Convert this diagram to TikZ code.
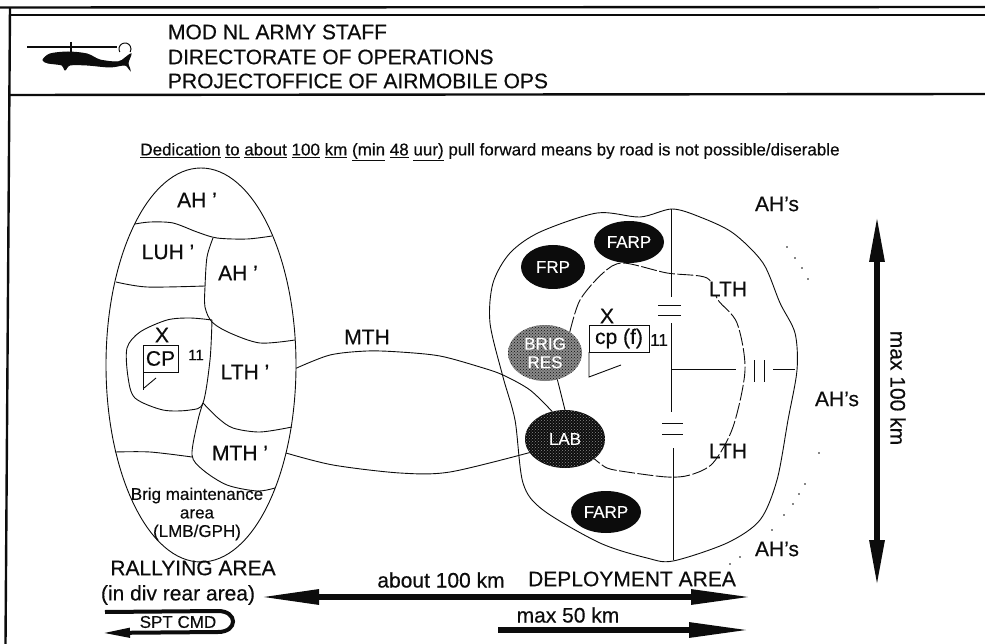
\documentclass[tikz,border=0pt]{standalone}
\usepackage{xcolor}
\usepackage{fontspec}
\usepackage{tikz}
\usetikzlibrary{arrows.meta,patterns,shapes.geometric}
\setmainfont{Liberation Sans}[RawFeature={embolden=0.4}]
\definecolor{ink}{HTML}{0C0C0C}
\definecolor{paper}{HTML}{FFFFFF}
\definecolor{halftone}{HTML}{8A8A8A}
\newcommand{\lbl}{\fontsize{21}{24}\selectfont}
\newcommand{\smalllbl}{\fontsize{17}{18.5}\selectfont}

\begin{document}
\begin{tikzpicture}[x=1pt,y=-1pt,every node/.style={font=\lbl,text=ink,inner sep=0pt,outer sep=0pt,align=center},
   frameline/.style={draw=ink,line width=2.4pt},
   thin/.style={draw=ink,line width=0.9pt},
   region/.style={draw=ink,line width=0.9pt,smooth},
   loopline/.style={draw=ink,line width=0.9pt,smooth,dash pattern=on 16pt off 2.5pt},
   unit/.style={ellipse,minimum width=70pt,minimum height=42pt,fill=ink,font=\smalllbl,text=paper},
   hatched/.style 2 args={ellipse,font=\smalllbl,text=paper,preaction={fill=#1},pattern=crosshatch dots,pattern color=#2},
   bigarrow/.style={draw=ink,line width=6pt,-{Triangle[length=62pt,width=14pt]}},
   bothways/.style={draw=ink,line width=6pt,{Triangle[length=47pt,width=14pt]}-{Triangle[length=47pt,width=14pt]}}]
\useasboundingbox (0,0) rectangle (985,644);
% page frame
\draw[frameline] (0,7.5) -- (985,7);
\draw[frameline] (10,15) -- (985,15);
\draw[frameline] (9,95) -- (985,94);
\draw[frameline] (10,7.5) -- (5.5,644);
% helicopter
\draw[ink,line width=1.2pt] (27,47) -- (117,47);
\draw[ink,line width=1.6pt] (71,42) -- (71,53);
\filldraw[ink,line width=1pt] plot[smooth cycle] coordinates {(43,60) (50,54) (68,52) (87,54) (100,60) (118,62) (125,58) (131,54) (128,63) (130,70) (125,65) (110,67) (87,65) (70,65) (65,70) (62,65) (48,63)};
\draw[ink,line width=1pt] (119.8,52) arc (150:390:6);
% header text
\node[anchor=west] (staff) at (168,32) {MOD NL ARMY STAFF};
\node[anchor=west] (direct) at (168,57) {DIRECTORATE OF OPERATIONS};
\node[anchor=west] (office) at (168,81) {PROJECTOFFICE OF AIRMOBILE OPS};
\node[font=\fontsize{17}{18}\selectfont] (dedic) at (490,152) {\underline{Dedication} \underline{to} \underline{about} \underline{100} \underline{km} \underline{(min} \underline{48} \underline{uur)} pull forward means by road is not possible/diserable};
% rallying area
\node[draw=ink,line width=0.9pt,ellipse,minimum width=190pt,minimum height=394pt] (rally) at (201,365) {};
\draw[region] plot coordinates {(135,224) (150,222) (173,223) (197,232) (217,238) (247,239) (272,236)};
\draw[region] plot coordinates {(213,238) (207,257) (205,287) (205,307) (212,322) (230,333) (260,343) (295,340)};
\draw[region] plot coordinates {(116,282) (147,287) (205,286)};
\draw[region] plot coordinates {(212,320) (190,318) (167,320) (140,332) (127,348) (128,377) (135,398) (163,410) (190,410) (203,403) (210,360) (212,320)};
\draw[region] plot coordinates {(203,403) (198,420) (192,455) (203,470) (227,485) (257,491) (275,488)};
\draw[region] plot coordinates {(203,403) (218,418) (233,428) (260,432) (292,427)};
\draw[region] plot coordinates {(115,452) (150,452) (192,457)};
\node (ahtop) at (197,200) {AH '};
\node (luh) at (168,252) {LUH '};
\node (ahmid) at (238,273) {AH '};
\node (lthleft) at (245,372) {LTH '};
\node (mthleft) at (240,453) {MTH '};
\node[font=\smalllbl] (maint) at (197,514) {Brig maintenance\\area\\(LMB/GPH)};
% command post
\node (xleft) at (162,335) {X};
\node[draw=ink,line width=0.8pt,minimum width=35pt,minimum height=27pt] (cpleft) at (160.5,358.5) {CP};
\node[font=\fontsize{15}{18}\selectfont] (elevenleft) at (196,355) {11};
\draw[thin] (cpleft.south west) -- ++(0,18);
\draw[thin] (144,388) -- (156,378);
% deployment area
\draw[region] plot[smooth cycle] coordinates {(672,209) (700,217) (733,233) (763,263) (780,303) (795,333) (797,370) (788,420) (777,480) (760,520) (727,543) (673,561) (647,558) (600,543) (543,510) (523,483) (515,420) (503,377) (490,323) (493,283) (510,253) (540,232) (597,213) (640,217)};
\draw[thin] (671,209) -- (671,297);
\draw[thin] (658,305) -- (681,305);
\draw[thin] (658,315) -- (681,315);
\draw[thin] (671,323) -- (671,412);
\draw[thin] (662,423) -- (683,423);
\draw[thin] (662,434) -- (683,434);
\draw[thin] (673,448) -- (673,560);
\draw[thin] (672,369) -- (736,369);
\draw[thin] (754,360) -- (754,382);
\draw[thin] (764,360) -- (764,382);
\draw[thin] (773,369) -- (795,369);
% units
\node[unit] (farptop) at (629,242) {FARP};
\node[unit,minimum width=64pt,minimum height=44pt] (frp) at (553,267) {FRP};
\node[hatched={halftone}{ink},minimum width=74pt,minimum height=56pt] (brig) at (545,353) {BRIG\\RES};
\node[hatched={ink}{halftone},minimum width=80pt,minimum height=58pt] (lab) at (565,439) {LAB};
\node[unit] (farplow) at (606,512) {FARP};
% lth route
\draw[loopline] plot coordinates {(brig.40) (580,300) (603,273) (623,263) (667,273) (707,278) (718,300) (737,323) (745,370) (733,427) (713,463) (690,475) (667,477) (627,472) (607,468) (lab.-34)};
\draw[thin] (brig.-65) -- (lab.north);
\node[fill=paper] (lthtop) at (728,289) {LTH};
\node (lthlow) at (728,451) {LTH};
% forward command post
\node (xright) at (607,316) {X};
\node[draw=ink,line width=0.8pt,fill=paper,minimum width=60pt,minimum height=27pt] (cpright) at (619,338.5) {cp (f)};
\node[font=\fontsize{17}{18}\selectfont] (elevenright) at (659,340) {11};
\draw[thin] (cpright.south west) -- ++(0,25) -- (621,365);
% mth routes
\draw[region] plot coordinates {(rally.-2) (330,355) (367,351) (400,352) (440,356) (480,367) (503,375) (530,390) (lab.115)};
\draw[region] plot coordinates {(rally.-46) (333,465) (400,473) (450,472) (lab.201)};
\node (mthmid) at (367,337) {MTH};
% ah's with speckled edge
\node (ahnorth) at (777,204) {AH's};
\node (aheast) at (837,399) {AH's};
\node (ahsouth) at (777,549) {AH's};
\foreach \sx/\sy in {787/247,795/258,802/268,808/279,819/453,805/484,799/494,793/504,784/515,772/530,740/557,730/564}
  \fill[ink] (\sx,\sy) circle (0.8);
% range arrows
\coordinate (topend) at (877,215);
\coordinate (lowend) at (877,587);
\draw[bothways] (topend) -- (lowend);
\node[rotate=-90] (maxhundred) at (898,388) {max 100 km};
\node (rallytxt) at (193,568) {RALLYING AREA};
\node (rear) at (178,595) {(in div rear area)};
\node (about) at (441,580) {about 100 km};
\node (deploy) at (632,579) {DEPLOYMENT AREA};
\node (maxfifty) at (568,615) {max 50 km};
\coordinate (aboutleft) at (259,597);
\coordinate (aboutright) at (753,597);
\draw[draw=ink,line width=6pt,{Triangle[length=60pt,width=14pt]}-{Triangle[length=62pt,width=14pt]}] (aboutleft) -- (aboutright);
\coordinate (fiftyleft) at (498,630);
\coordinate (fiftyright) at (751,630);
\draw[bigarrow] (fiftyleft) -- (fiftyright);
% support command
\node[font=\smalllbl] (spt) at (178,622) {SPT CMD};
\coordinate (sptstart) at (105,612);
\coordinate (sptend) at (102,633);
\draw[draw=ink,line width=4pt,-{Triangle[length=28pt,width=9pt]}] (sptstart) -- (218,611) .. controls (238,611) and (238,632) .. (218,632) -- (sptend);
\end{tikzpicture}
\end{document}
